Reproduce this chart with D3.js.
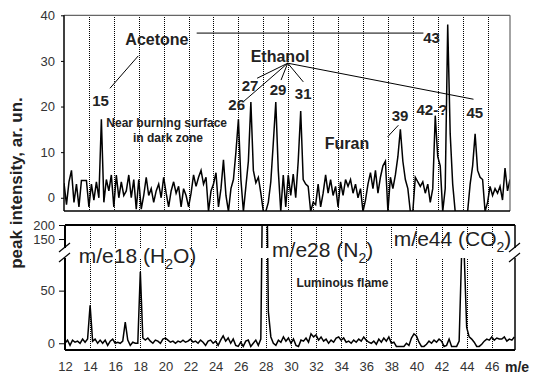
<!DOCTYPE html>
<html>
<head>
<meta charset="utf-8">
<script src="https://cdn.jsdelivr.net/npm/d3@7"></script>
<style>
  body { margin: 0; background: #fff; }
  svg text { font-family: Arial, "Liberation Sans", sans-serif; }
</style>
</head>
<body>
<svg id="chart" width="535" height="374"></svg>
<script>
// m/e sampling: first point and step of both spectra
const mzStart = 12;
const mzStep = 0.2;

// top spectrum: near burning surface, dark zone (5 points per m/e unit)
const topIntensity = [
  3.2, -1.5, 3.5, 6.0, -1.0,   // 12
  3.0, -2.0, 3.8, 3.8, 3.8,    // 13
  -2.0, 3.0, -0.5, 3.5, 0.0,   // 14
  17.2, -1.0, 4.0, 1.5, 5.0,   // 15
  -2.0, 5.0, 0.0, 3.5, 0.5,    // 16
  1.5, 5.0, 0.0, 4.0, -2.5,    // 17
  4.0, -2.5, 0.5, 4.5, 0.5,    // 18
  2.0, -1.0, 1.5, 3.0, 0.0,    // 19
  4.5, 1.0, -2.0, 1.5, 3.5,    // 20
  1.0, 2.5, -2.0, 2.0, 0.5,    // 21
  -2.0, 1.0, 5.0, 2.5, 4.5,    // 22
  6.0, 3.0, 4.5, -3.0, 1.5,    // 23
  3.0, 5.5, -2.0, 2.0, 8.3,    // 24
  0.5, -3.0, 2.0, 4.0, 10.0,   // 25
  17.2, 4.0, -3.0, 2.5, 8.0,   // 26
  21.0, 6.0, 3.3, 4.5, 1.0,    // 27
  -3.0, -3.0, -1.0, 3.5, 12.0, // 28
  21.0, 6.0, -3.0, 5.0, -2.0,  // 29
  5.0, 0.5, 5.2, 0.0, 8.0,     // 30
  19.0, 4.0, 3.0, 2.5, -3.0,   // 31
  -1.0, -1.5, 3.0, -2.0, 1.0,  // 32
  5.0, 1.0, 4.0, 0.5, 2.5,     // 33
  -2.0, 3.5, 0.5, 4.0, 2.5,    // 34
  4.0, 1.0, 3.0, 0.0, 2.0,     // 35
  -3.0, -0.5, 3.0, 5.5, 2.0,   // 36
  6.0, 1.0, 4.5, 7.0, 8.0,     // 37
  -3.0, 4.5, 2.0, 5.0, 9.0,    // 38
  15.0, 8.0, 4.0, 2.0, -3.0,   // 39
  -3.0, 4.5, 3.5, 2.5, 3.5,    // 40
  1.0, 3.0, -1.0, 2.0, 18.0,   // 41
  9.0, 7.0, -3.0, 2.0, 38.0,   // 42
  14.0, 3.0, -3.0, -3.0, -3.0, // 43
  -3.0, -3.0, -3.0, 3.0, 7.0,  // 44
  14.0, 6.0, 4.5, 4.0, -3.0,   // 45
  -1.0, 2.5, 0.5, 2.0, 1.0,    // 46
  2.5, -0.5, 6.5, 1.5, 4.0     // 47
];

// bottom spectrum: luminous flame
const bottomIntensity = [
  0, 3, -2, 3, 1,        // 12
  2, 0, 4, 1, 4,         // 13
  36, 2, 4, 0, 3,        // 14
  0, 3, -2, 2, 4,        // 15
  0, 1, 0, 2, 20,        // 16
  3, -2, 1, 0, 0,        // 17
  68, 5, 3, 5, 2,        // 18
  0, 3, 2, 0, 4,         // 19
  5, 3, 1, 2, 0,         // 20
  2, 1, 3, 1, 2,         // 21
  4, 1, 2, 0, 3,         // 22
  1, -2, 2, 3, 0,        // 23
  2, -2, 3, 7, 2,        // 24
  5, 0, 4, -2, -3,       // 25
  1, -3, 2, 3, -3,       // 26
  0, 3, -2, 4, 600,      // 27
  700, 30, 6, 0, -2,     // 28
  3, 1, 6, 2, 5,         // 29
  0, 4, -2, -3, 3,       // 30
  2, 5, 1, 9, 6,         // 31
  8, 3, 6, 2, 4,         // 32
  0, 3, 1, 5, 6,         // 33
  3, 5, 1, 2, 0,         // 34
  3, 1, 4, 2, 6,         // 35
  3, 1, 0, 2, -1,        // 36
  4, 1, 5, 2, 6,         // 37
  0, 1, -3, -3, -3,      // 38
  -3, 0, -2, 5, 9,       // 39
  7, 1, -3, -3, -1,      // 40
  2, 0, 3, 1, 4,         // 41
  2, -3, -2, 4, -3,      // 42
  -3, -3, 2, 100, 100,   // 43
  15, 6, 4, 1, -3,       // 44
  -3, -1, 2, 4, 3,       // 45
  6, 3, 5, 4, 4,         // 46
  6, 2, 4, 3, 6          // 47
];

const gridMz = [14, 16, 18, 20, 22, 24, 26, 28, 30, 32, 34, 36, 38, 40, 42, 44, 46];
const xTickLabels = [12, 14, 16, 18, 20, 22, 24, 26, 28, 30, 32, 34, 36, 38, 40, 42, 44, 46];
const topYTicks = [0, 10, 20, 30, 40];
const bottomYTicks = [0, 50, 150, 200];

const topPeakLabels = [
  { text: "15", mz: 14.94, v: 20.1 },
  { text: "26", mz: 25.86, v: 19.2 },
  { text: "27", mz: 26.93, v: 23.5 },
  { text: "29", mz: 29.18, v: 22.5 },
  { text: "31", mz: 31.2, v: 21.6 },
  { text: "39", mz: 38.98, v: 16.9 },
  { text: "42-?", mz: 41.53, v: 18.1 },
  { text: "43", mz: 41.5, v: 34.0 },
  { text: "45", mz: 44.98, v: 17.5 }
];
const topCompounds = [
  { text: "Acetone", mz: 19.46, v: 33.5 },
  { text: "Ethanol", mz: 29.34, v: 29.8 },
  { text: "Furan", mz: 34.72, v: 10.8 }
];
// leader lines [mz1, v1, mz2, v2]
const topLeaders = [
  [22.65, 36.1, 40.85, 36.1],
  [17.96, 31.1, 15.69, 24.0],
  [29.96, 29.5, 26.39, 21.05],
  [29.96, 29.5, 27.5, 26.2],
  [29.96, 29.5, 29.42, 25.8],
  [29.96, 29.5, 31.21, 25.4],
  [29.96, 29.5, 44.87, 21.6],
  [37.99, 13.4, 38.84, 15.9]
];
const gasLabels = [
  { main: "m/e18 (H", sub: "2", tail: "O)", mz: 13.1, v: 76 },
  { main: "m/e28 (N", sub: "2", tail: ")", mz: 28.5, v: 86 },
  { main: "m/e44 (CO", sub: "2", tail: ")", mz: 38.2, v: 126 }
];

const svg = d3.select("#chart");
const series = (arr) => arr.map((v, i) => ({ mz: mzStart + i * mzStep, v }));

// ---------- top panel ----------
const xTop = d3.scaleLinear().domain([12, 47.8]).range([64, 510]);
const yTop = d3.scaleLinear().domain([-2.9, 40]).range([211, 15.3]);

svg.append("clipPath").attr("id", "clipTop")
  .append("rect").attr("x", 64).attr("y", 15.3).attr("width", 446).attr("height", 195.7);

const gTop = svg.append("g");
gTop.selectAll(".gridTop").data(gridMz).join("line")
  .attr("x1", d => Math.round(xTop(d)) + 0.5).attr("x2", d => Math.round(xTop(d)) + 0.5)
  .attr("y1", 15.3).attr("y2", 211)
  .attr("stroke", "#000").attr("stroke-width", 1).attr("stroke-dasharray", "1,1")
  .attr("shape-rendering", "crispEdges");

gTop.append("path")
  .datum(series(topIntensity))
  .attr("clip-path", "url(#clipTop)")
  .attr("fill", "none").attr("stroke", "#000").attr("stroke-width", 1.5)
  .attr("d", d3.line().x(d => xTop(d.mz)).y(d => yTop(d.v)));

// frame
gTop.append("line").attr("x1", 64).attr("x2", 510).attr("y1", 15.3).attr("y2", 15.3)
  .attr("stroke", "#666").attr("stroke-width", 1.2);
gTop.append("line").attr("x1", 510).attr("x2", 510).attr("y1", 15.3).attr("y2", 211)
  .attr("stroke", "#666").attr("stroke-width", 1.2);
gTop.append("line").attr("x1", 64).attr("x2", 510).attr("y1", 211).attr("y2", 211)
  .attr("stroke", "#000").attr("stroke-width", 1.5);

const axTop = gTop.append("g").attr("transform", "translate(64,0)")
  .call(d3.axisLeft(yTop).tickValues(topYTicks).tickSize(3).tickPadding(6).tickSizeOuter(0));
axTop.select(".domain").attr("stroke", "#000").attr("stroke-width", 1.5)
  .attr("d", `M0,${yTop(40)}V211`);
axTop.selectAll("text").attr("font-size", 13).attr("fill", "#333")
  .attr("font-family", "Arial, 'Liberation Sans', sans-serif");

// annotations
gTop.selectAll(".leader").data(topLeaders).join("line")
  .attr("x1", d => xTop(d[0])).attr("y1", d => yTop(d[1]))
  .attr("x2", d => xTop(d[2])).attr("y2", d => yTop(d[3]))
  .attr("stroke", "#000").attr("stroke-width", 1);

gTop.selectAll(".peakLab").data(topPeakLabels).join("text")
  .attr("x", d => xTop(d.mz)).attr("y", d => yTop(d.v))
  .attr("text-anchor", "middle").attr("font-size", 15).attr("font-weight", "bold")
  .attr("fill", "#222").text(d => d.text);

gTop.selectAll(".compound").data(topCompounds).join("text")
  .attr("x", d => xTop(d.mz)).attr("y", d => yTop(d.v))
  .attr("text-anchor", "middle").attr("font-size", 16).attr("font-weight", "bold")
  .attr("fill", "#222").text(d => d.text);

gTop.append("text").attr("x", xTop(20.24)).attr("y", yTop(15.5))
  .attr("text-anchor", "middle").attr("font-size", 12).attr("font-weight", "bold")
  .attr("fill", "#222").text("Near burning surface");
gTop.append("text").attr("x", xTop(20.35)).attr("y", yTop(12.2))
  .attr("text-anchor", "middle").attr("font-size", 12).attr("font-weight", "bold")
  .attr("fill", "#222").text("in dark zone");

// ---------- bottom panel (broken y axis) ----------
const xBot = d3.scaleLinear().domain([12, 47.85]).range([65, 515]);
const yBot = d3.scaleLinear().domain([-6.4, 81, 118, 200]).range([350, 258, 248, 225]);

svg.append("clipPath").attr("id", "clipBot")
  .append("rect").attr("x", 65).attr("y", 225).attr("width", 450).attr("height", 125);

const gBot = svg.append("g");
gBot.selectAll(".gridBot").data(gridMz).join("line")
  .attr("x1", d => Math.round(xBot(d)) + 0.5).attr("x2", d => Math.round(xBot(d)) + 0.5)
  .attr("y1", 225).attr("y2", 350)
  .attr("stroke", "#000").attr("stroke-width", 1).attr("stroke-dasharray", "1,1")
  .attr("shape-rendering", "crispEdges");

gBot.append("path")
  .datum(series(bottomIntensity))
  .attr("clip-path", "url(#clipBot)")
  .attr("fill", "none").attr("stroke", "#000").attr("stroke-width", 1.5)
  .attr("d", d3.line().x(d => xBot(d.mz)).y(d => yBot(d.v)));

// white band of the axis break
gBot.append("rect").attr("x", 60).attr("y", yBot(118)).attr("width", 462)
  .attr("height", yBot(81) - yBot(118)).attr("fill", "#fff");

// frame
gBot.append("line").attr("x1", 65).attr("x2", 515).attr("y1", 225).attr("y2", 225)
  .attr("stroke", "#000").attr("stroke-width", 2);
gBot.append("line").attr("x1", 65).attr("x2", 515).attr("y1", 350).attr("y2", 350)
  .attr("stroke", "#000").attr("stroke-width", 2);
gBot.append("line").attr("x1", 515).attr("x2", 515).attr("y1", 225).attr("y2", yBot(118))
  .attr("stroke", "#000").attr("stroke-width", 1.5);
gBot.append("line").attr("x1", 515).attr("x2", 515).attr("y1", yBot(81)).attr("y2", 350)
  .attr("stroke", "#000").attr("stroke-width", 1.5);

const axBot = gBot.append("g").attr("transform", "translate(65,0)")
  .call(d3.axisLeft(yBot).tickValues(bottomYTicks).tickSize(6).tickPadding(4).tickSizeOuter(0));
axBot.select(".domain").attr("stroke", "#000").attr("stroke-width", 2)
  .attr("d", `M0,225V${yBot(118)}M0,${yBot(81)}V350`);
axBot.selectAll("text").attr("font-size", 13).attr("fill", "#333")
  .attr("font-family", "Arial, 'Liberation Sans', sans-serif");

// break marks
const breakMarks = [[59, 70], [509, 520]];
breakMarks.forEach(([a, b]) => {
  [yBot(118), yBot(81)].forEach(y => {
    gBot.append("line").attr("x1", a).attr("y1", y + 4).attr("x2", b).attr("y2", y - 5)
      .attr("stroke", "#000").attr("stroke-width", 1.2);
  });
});

// gas labels
gasLabels.forEach(g => {
  const t = gBot.append("text").attr("x", xBot(g.mz)).attr("y", yBot(g.v))
    .attr("font-size", 21).attr("fill", "#222");
  t.append("tspan").text(g.main);
  t.append("tspan").attr("font-size", 14).attr("dy", 6).text(g.sub);
  t.append("tspan").attr("dy", -6).text(g.tail);
});

gBot.append("text").attr("x", xBot(34.1)).attr("y", yBot(53))
  .attr("text-anchor", "middle").attr("font-size", 12).attr("font-weight", "bold")
  .attr("fill", "#222").text("Luminous flame");

// x axis labels
const axX = gBot.append("g").attr("transform", "translate(0,350)")
  .call(d3.axisBottom(xBot).tickValues(xTickLabels).tickSize(0).tickPadding(12));
axX.select(".domain").remove();
axX.selectAll("text").attr("font-size", 13).attr("fill", "#333")
  .attr("font-family", "Arial, 'Liberation Sans', sans-serif");

svg.append("text").attr("x", 505).attr("y", 372)
  .attr("font-size", 14).attr("font-weight", "bold").attr("fill", "#222").text("m/e");

// y title
svg.append("text")
  .attr("transform", "translate(22,183) rotate(-90)")
  .attr("text-anchor", "middle").attr("font-size", 17).attr("font-weight", "bold")
  .attr("fill", "#222").text("peak intensity, ar. un.");
</script>
</body>
</html>
